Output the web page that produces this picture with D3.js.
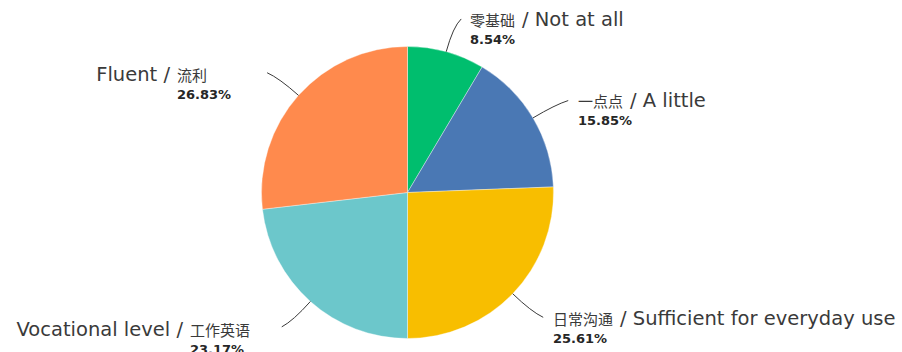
<!DOCTYPE html>
<html>
<head>
<meta charset="utf-8">
<script src="https://cdn.jsdelivr.net/npm/d3@7"></script>
<style>
  body { margin: 0; background: #fff; }
  svg { display: block; }
</style>
</head>
<body>
<div class="chart"></div>
<script>
const WIDTH = 902
const HEIGHT = 352

// données
const labelsZh = ["零基础", "一点点", "日常沟通", "工作英语", "流利"];
const labelsEn = ["Not at all", "A little", "Sufficient for everyday use", "Vocational level", "Fluent"];
const shares = [8.54, 15.85, 25.61, 23.17, 26.83];
const colors = ["#00be6e", "#4a78b4", "#f8be00", "#6cc7cb", "#ff8a4d"];

// placement des étiquettes (x du texte chinois, ligne de base)
const labelPos = [[470, 26], [578, 107], [553, 325], [190, 336], [177, 81]];

const cx = 407.5, cy = 192.5, R = 146;

const svg = d3.select("div.chart")
            .append("svg")
            .attr("width", WIDTH)
            .attr("height", HEIGHT);

const pie = d3.pie().sort(null).value(d => d);
const arcs = pie(shares);
const arc = d3.arc().innerRadius(0).outerRadius(R);

const g = svg.append("g").attr("transform", `translate(${cx},${cy})`);

g.selectAll("path.slice")
  .data(arcs)
  .enter()
  .append("path")
  .attr("class", "slice")
  .attr("d", arc)
  .attr("fill", (d, i) => colors[i])
  .attr("stroke", "#ffffff")
  .attr("stroke-opacity", 0.6)
  .attr("stroke-width", 0.6);

// lignes de rappel
const polar = (a, r) => [Math.sin(a) * r, -Math.cos(a) * r];

g.selectAll("path.leader")
  .data(arcs)
  .enter()
  .append("path")
  .attr("class", "leader")
  .attr("fill", "none")
  .attr("stroke", "#3a3a3a")
  .attr("stroke-width", 1)
  .attr("d", d => {
    const a = (d.startAngle + d.endAngle) / 2;
    const side = Math.sin(a) >= 0 ? 1 : -1;
    const p0 = polar(a, R);
    const p1 = polar(a, R + 26);
    const p2 = polar(a, 180);
    p2[0] += 6 * side;
    const path = d3.path();
    path.moveTo(p0[0], p0[1]);
    path.quadraticCurveTo(p1[0], p1[1], p2[0], p2[1]);
    return path.toString();
  });

// étiquettes
arcs.forEach((d, i) => {
  const a = (d.startAngle + d.endAngle) / 2;
  const right = Math.sin(a) >= 0;
  const [x, y] = labelPos[i];

  if (right) {
    const t = svg.append("text").attr("x", x).attr("y", y);
    t.append("tspan")
      .style("font-family", "'Noto Sans CJK SC'")
      .style("font-size", "15px")
      .attr("fill", "#3a3a3a")
      .text(labelsZh[i]);
    t.append("tspan")
      .attr("dx", 7)
      .style("font-family", "'DejaVu Sans'")
      .style("font-size", "19.5px")
      .attr("fill", "#3a3a3a")
      .text("/ " + labelsEn[i]);
  } else {
    svg.append("text")
      .attr("x", x - 7)
      .attr("y", y)
      .attr("text-anchor", "end")
      .style("font-family", "'DejaVu Sans'")
      .style("font-size", "19.5px")
      .attr("fill", "#3a3a3a")
      .text(labelsEn[i] + " /");
    svg.append("text")
      .attr("x", x)
      .attr("y", y)
      .style("font-family", "'Noto Sans CJK SC'")
      .style("font-size", "15px")
      .attr("fill", "#3a3a3a")
      .text(labelsZh[i]);
  }

  svg.append("text")
    .attr("x", x)
    .attr("y", y + 17.5)
    .style("font-family", "'DejaVu Sans'")
    .style("font-weight", "bold")
    .style("font-size", "13px")
    .attr("fill", "#262626")
    .text(shares[i].toFixed(2) + "%");
});
</script>
</body>
</html>
